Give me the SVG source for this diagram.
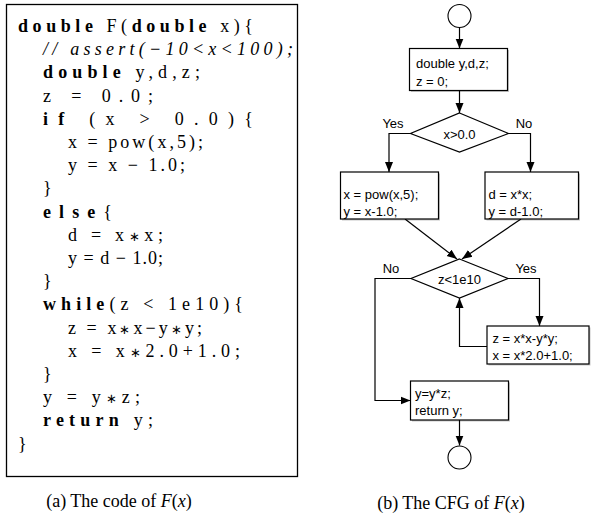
<svg xmlns="http://www.w3.org/2000/svg" width="592" height="516" viewBox="0 0 592 516">
<style>
.code{font-family:"Liberation Serif","Times New Roman",serif;font-size:18px;fill:#000}
.kw{font-weight:bold}
.it{font-style:italic}
.ast{font-size:13px}
.cap{font-family:"Liberation Serif","Times New Roman",serif;font-size:18px;fill:#000}
.lbl{font-family:"Liberation Sans",Arial,sans-serif;font-size:13px;fill:#000}
.box{fill:#fff;stroke:#000;stroke-width:1.2}
.shadow{fill:#000;opacity:0.22}
.edge{fill:none;stroke:#000;stroke-width:1.2}
</style>
<defs>
<marker id="arr" markerUnits="userSpaceOnUse" markerWidth="10" markerHeight="10" viewBox="0 0 10 10" refX="10" refY="5" orient="auto">
<path d="M0,1 L10,5 L0,9 Z" fill="#000"/>
</marker>
</defs>
<rect width="592" height="516" fill="#fff"/>

<g id="code">
<rect x="6.5" y="4.5" width="291" height="472" fill="#fff" stroke="#000" stroke-width="1.3"/>
<text class="code" x="18" y="32" textLength="235" lengthAdjust="spacing"><tspan class="kw">double</tspan> F(<tspan class="kw">double</tspan> x){</text>
<text class="code it" x="43" y="55.2" textLength="250" lengthAdjust="spacing">// assert(−10&lt;x&lt;100);</text>
<text class="code" x="43" y="78.4" textLength="157" lengthAdjust="spacing"><tspan class="kw">double</tspan> y,d,z;</text>
<text class="code" x="43" y="101.6" textLength="110" lengthAdjust="spacing">z = 0.0;</text>
<text class="code" x="43" y="124.8" textLength="210" lengthAdjust="spacing"><tspan class="kw">if</tspan> (x &gt; 0.0){</text>
<text class="code" x="68" y="148" textLength="135" lengthAdjust="spacing">x = pow(x,5);</text>
<text class="code" x="68" y="171.2" textLength="117" lengthAdjust="spacing">y = x − 1.0;</text>
<text class="code" x="43" y="194.4">}</text>
<text class="code" x="43" y="217.6" textLength="69" lengthAdjust="spacing"><tspan class="kw">else</tspan>{</text>
<text class="code" x="68" y="240.8" textLength="95" lengthAdjust="spacing">d = x<tspan class="ast">∗</tspan>x;</text>
<text class="code" x="68" y="264" textLength="95" lengthAdjust="spacing">y = d − 1.0;</text>
<text class="code" x="43" y="287.2">}</text>
<text class="code" x="43" y="310.4" textLength="200" lengthAdjust="spacing"><tspan class="kw">while</tspan>(z &lt; 1e10){</text>
<text class="code" x="68" y="333.6" textLength="134" lengthAdjust="spacing">z = x<tspan class="ast">∗</tspan>x−y<tspan class="ast">∗</tspan>y;</text>
<text class="code" x="68" y="356.8" textLength="172" lengthAdjust="spacing">x = x<tspan class="ast">∗</tspan>2.0+1.0;</text>
<text class="code" x="43" y="380">}</text>
<text class="code" x="43" y="403.2" textLength="97" lengthAdjust="spacing">y = y<tspan class="ast">∗</tspan>z;</text>
<text class="code" x="43" y="426.4" textLength="110" lengthAdjust="spacing"><tspan class="kw">return</tspan> y;</text>
<text class="code" x="18" y="449.6">}</text>
</g>
<text class="cap" x="119" y="507" text-anchor="middle">(a) The code of <tspan class="it">F</tspan>(<tspan class="it">x</tspan>)</text>

<g id="connectors">
<line class="edge" x1="459.5" y1="27.5" x2="459.5" y2="48.5" marker-end="url(#arr)"/>
<line class="edge" x1="459.5" y1="90.5" x2="459.5" y2="113" marker-end="url(#arr)"/>
<polyline class="edge" points="410.5,133.5 389,133.5 389,172" marker-end="url(#arr)"/>
<polyline class="edge" points="508.5,133.5 530.5,133.5 530.5,172" marker-end="url(#arr)"/>
<line class="edge" x1="405" y1="219" x2="457" y2="259" marker-end="url(#arr)"/>
<line class="edge" x1="521" y1="219" x2="462" y2="259" marker-end="url(#arr)"/>
<polyline class="edge" points="508,278.5 539.5,278.5 539.5,326" marker-end="url(#arr)"/>
<polyline class="edge" points="487,346.5 459.5,346.5 459.5,298" marker-end="url(#arr)"/>
<polyline class="edge" points="411,278.5 375,278.5 375,400.5 410.5,400.5" marker-end="url(#arr)"/>
<line class="edge" x1="459.5" y1="420" x2="459.5" y2="445.5" marker-end="url(#arr)"/>
<text class="lbl" x="393" y="127.5" text-anchor="middle">Yes</text>
<text class="lbl" x="524" y="127.5" text-anchor="middle">No</text>
<text class="lbl" x="391" y="272.5" text-anchor="middle">No</text>
<text class="lbl" x="526" y="272.5" text-anchor="middle">Yes</text>
</g>

<g id="start">
<circle cx="459.5" cy="16" r="11.5" fill="#fff" stroke="#000" stroke-width="1.1"/>
</g>
<g id="init">
<rect class="shadow" x="411" y="50" width="98" height="42"/>
<rect class="box" x="409.5" y="48.5" width="98" height="42"/>
<text class="lbl" x="416" y="67.5">double y,d,z;</text>
<text class="lbl" x="416" y="86">z = 0;</text>
</g>
<g id="cond1">
<polygon class="box" points="459.5,113 508.5,133.5 459.5,152 410.5,133.5"/>
<text class="lbl" x="459.5" y="138.5" text-anchor="middle">x&gt;0.0</text>
</g>
<g id="thenbox">
<rect class="shadow" x="342" y="173.5" width="98" height="47"/>
<rect class="box" x="340.5" y="172" width="98" height="47"/>
<text class="lbl" x="343.5" y="198.5">x = pow(x,5);</text>
<text class="lbl" x="343.5" y="215.5">y = x-1.0;</text>
</g>
<g id="elsebox">
<rect class="shadow" x="486.5" y="173.5" width="93.5" height="47"/>
<rect class="box" x="485" y="172" width="93.5" height="47"/>
<text class="lbl" x="488.5" y="198.5">d = x*x;</text>
<text class="lbl" x="488.5" y="215.5">y = d-1.0;</text>
</g>
<g id="cond2">
<polygon class="box" points="459.5,259 508,278.5 459.5,298 411,278.5"/>
<text class="lbl" x="459.5" y="283.5" text-anchor="middle">z&lt;1e10</text>
</g>
<g id="loopbody">
<rect class="shadow" x="488.5" y="327.5" width="102" height="38"/>
<rect class="box" x="487" y="326" width="102" height="38"/>
<text class="lbl" x="492.5" y="343">z = x*x-y*y;</text>
<text class="lbl" x="492.5" y="360">x = x*2.0+1.0;</text>
</g>
<g id="exitbox">
<rect class="shadow" x="412" y="382.5" width="98" height="39"/>
<rect class="box" x="410.5" y="381" width="98" height="39"/>
<text class="lbl" x="415" y="398">y=y*z;</text>
<text class="lbl" x="415" y="415">return y;</text>
</g>
<g id="end">
<circle cx="459.5" cy="457.5" r="11.5" fill="#fff" stroke="#000" stroke-width="1.1"/>
</g>
<text class="cap" x="451" y="509" text-anchor="middle">(b) The CFG of <tspan class="it">F</tspan>(<tspan class="it">x</tspan>)</text>
</svg>
